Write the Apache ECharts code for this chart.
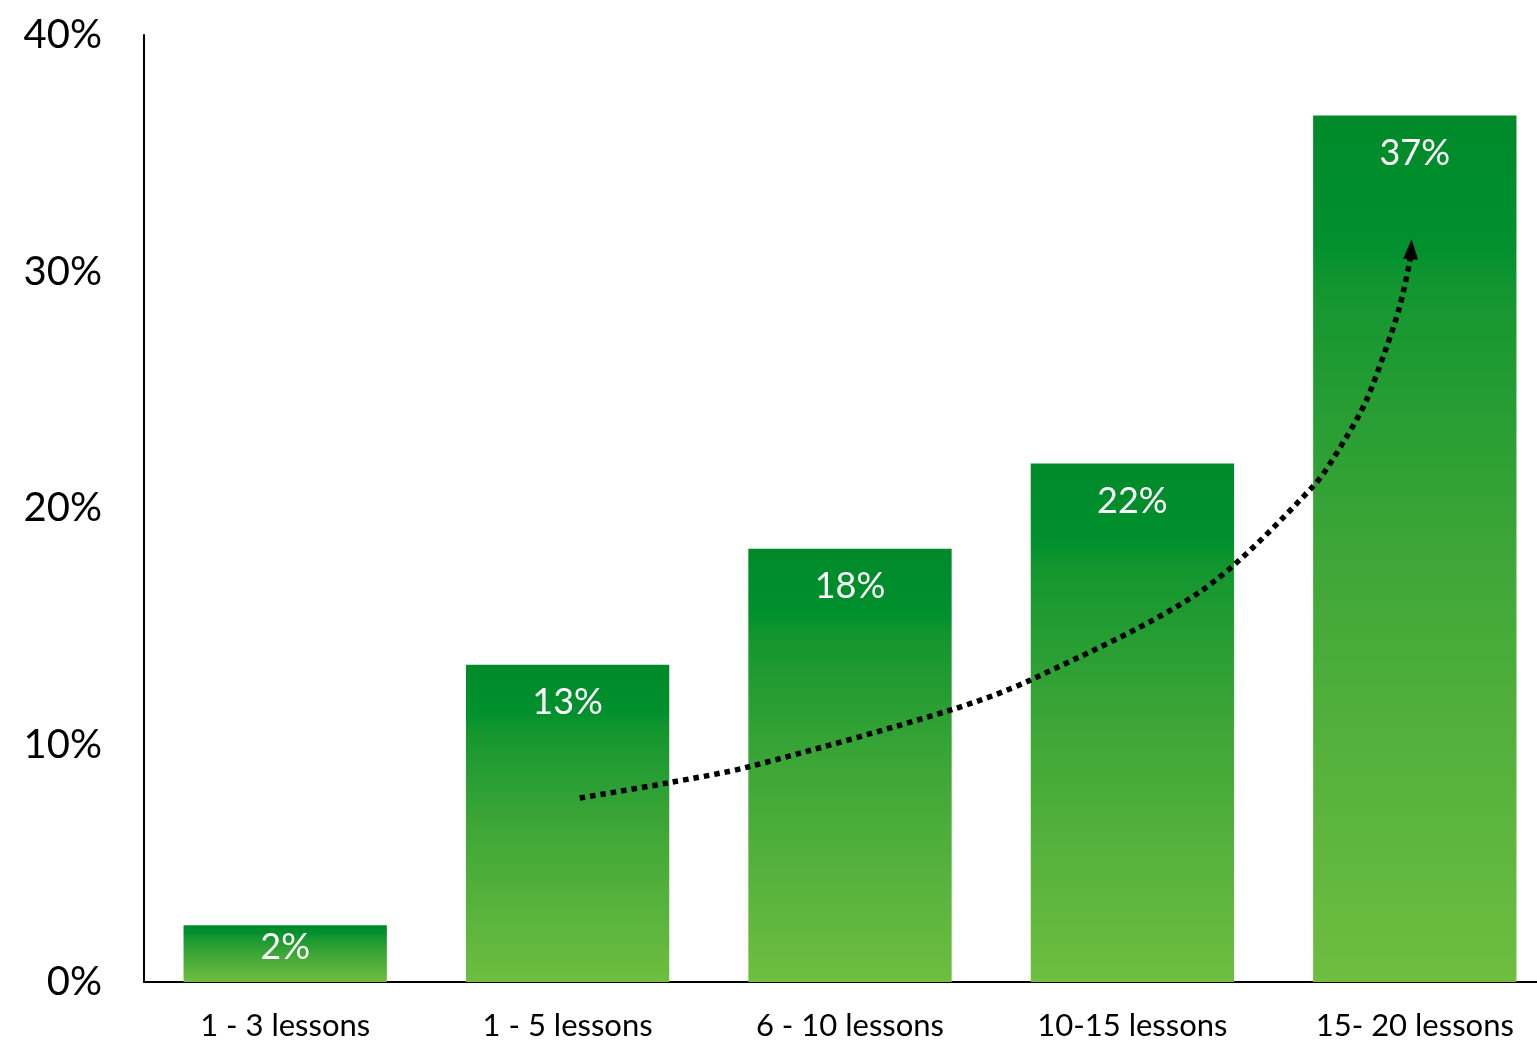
<!DOCTYPE html>
<html>
<head>
<meta charset="utf-8">
<script src="https://cdn.jsdelivr.net/npm/echarts@6/dist/echarts.min.js"></script>
<style>
html,body{margin:0;padding:0;background:#fff;overflow:hidden;}
#chart{width:1537px;height:1042px;}
</style>
</head>
<body>
<div id="chart"></div>
<script>
const categories = ['1 - 3 lessons', '1 - 5 lessons', '6 - 10 lessons', '10-15 lessons', '15- 20 lessons'];
const values = [2.4, 13.4, 18.3, 21.9, 36.6];
const yTicks = [0, 10, 20, 30, 40];
// Trend arrow path, in (category position 0..5, percent) data units
const trendX = [1.543, 1.855, 2.138, 2.857, 3.140, 3.738, 4.138, 4.258, 4.329, 4.400, 4.446, 4.481, 4.487];
const trendY = [7.77, 8.41, 9.08, 11.49, 12.76, 16.47, 20.91, 23.02, 24.58, 26.82, 28.51, 30.37, 30.95];

const font = 'Lato, "Open Sans", sans-serif';
const chart = echarts.init(document.getElementById('chart'), null, {renderer: 'canvas'});

const barGradient = new echarts.graphic.LinearGradient(0, 0, 0, 1, [
  {offset: 0, color: '#008A2A'},
  {offset: 0.15, color: '#00902E'},
  {offset: 0.2, color: '#13962F'},
  {offset: 0.5, color: '#3DA637'},
  {offset: 1, color: '#6EBE40'}
]);

const trendData = trendX.map((x, i) => {
  const item = {value: [x, trendY[i]]};
  if (i === trendX.length - 1) {
    item.symbol = 'triangle';
    item.symbolSize = [15, 20];
    item.symbolRotate = -3;
    item.itemStyle = {color: '#000'};
  }
  return item;
});

chart.setOption({
  animation: false,
  backgroundColor: '#fff',
  grid: {left: 144, top: 35, width: 1412, height: 947, containLabel: false, outerBoundsMode: 'none'},
  xAxis: [
    {
      type: 'category',
      data: categories,
      axisLine: {show: true, lineStyle: {color: '#000', width: 2}},
      axisTick: {show: false},
      axisLabel: {color: '#000', fontSize: 31, fontFamily: font, margin: 28}
    },
    {
      type: 'value', min: 0, max: 5, show: false
    }
  ],
  yAxis: {
    type: 'value', min: yTicks[0], max: yTicks[yTicks.length - 1], interval: 10,
    axisLine: {show: true, lineStyle: {color: '#000', width: 2}},
    axisTick: {show: false},
    splitLine: {show: false},
    axisLabel: {color: '#000', fontSize: 40, fontFamily: font, margin: 42, formatter: '{value}%'}
  },
  series: [
    {
      type: 'bar',
      data: values.map((v, i) => i === 0 ? {value: v, label: {distance: 4}} : v),
      barWidth: '72%',
      itemStyle: {color: barGradient},
      label: {
        show: true, position: 'insideTop', distance: 20,
        color: '#fff', fontSize: 36, fontFamily: font,
        formatter: p => Math.round(p.value) + '%'
      },
      z: 2
    },
    {
      type: 'line',
      xAxisIndex: 1,
      data: trendData,
      smooth: 0.3,
      symbol: 'none',
      showSymbol: true,
      lineStyle: {color: '#000', width: 5.5, type: [5.5, 5], cap: 'butt'},
      z: 5
    }
  ]
});
</script>
</body>
</html>
